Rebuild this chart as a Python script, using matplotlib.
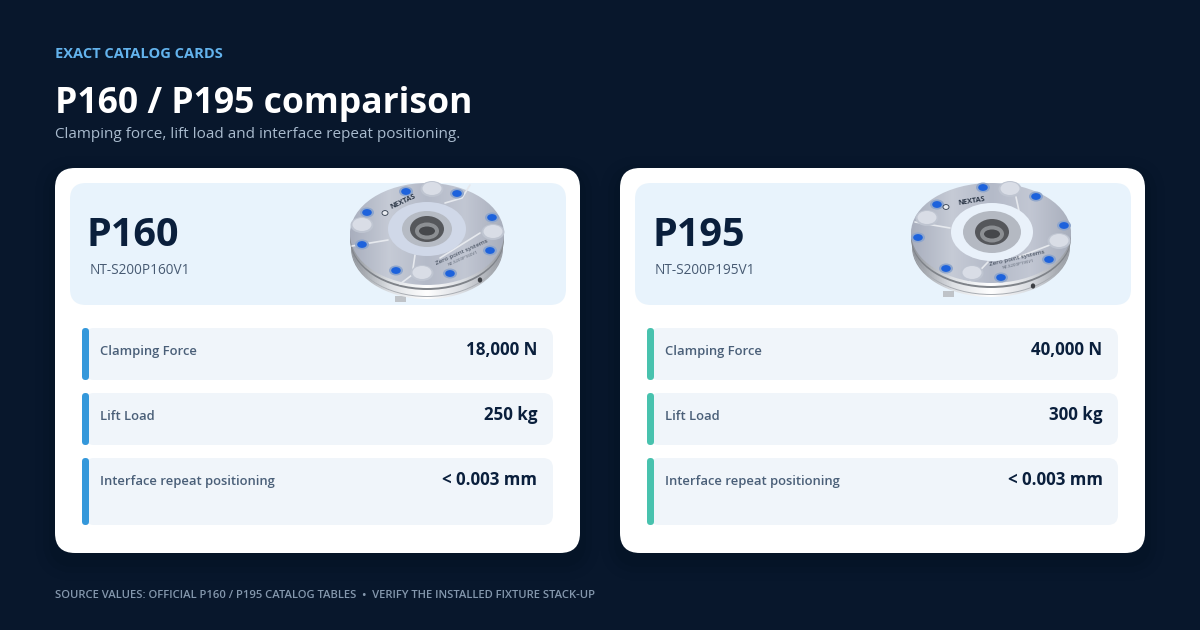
import numpy as np
import matplotlib
matplotlib.use("Agg")
import matplotlib.pyplot as plt
from matplotlib.colors import LinearSegmentedColormap
from matplotlib.patches import Ellipse, FancyBboxPatch, Rectangle

plt.rcParams['font.family'] = ['Open Sans', 'DejaVu Sans']

# values from the catalog cards
models = ["P160", "P195"]
part_numbers = ["NT-S200P160V1", "NT-S200P195V1"]
row_labels = ["Clamping Force", "Lift Load", "Interface repeat positioning"]
p160_values = ["18,000 N", "250 kg", "< 0.003 mm"]
p195_values = ["40,000 N", "300 kg", "< 0.003 mm"]
accents = ["#3498DB", "#48C2AE"]

BG = "#08172C"
NAVY = "#0A1F3C"

fig = plt.figure(figsize=(12, 6.3), dpi=100, facecolor=BG)
ax = fig.add_axes([0, 0, 1, 1])
ax.set_xlim(0, 1200)
ax.set_ylim(630, 0)
ax.axis('off')

top_cmap = LinearSegmentedColormap.from_list("top", ["#A9AFBE", "#C6CBD6", "#B4BAC8", "#C2C7D3", "#A9AFBD"])
side_cmap = LinearSegmentedColormap.from_list("side", ["#8E9299", "#DDE0E4", "#FFFFFF", "#D8DBE0", "#969AA1"])
ramp = np.linspace(0, 1, 64).reshape(1, -1)


def round_box(x0, y0, x1, y1, r, color, z=1, alpha=1.0):
    box = FancyBboxPatch((x0 + r, y0 + r), x1 - x0 - 2 * r, y1 - y0 - 2 * r,
                         boxstyle="round,pad=%f,rounding_size=%f" % (r, r),
                         fc=color, ec='none', zorder=z, alpha=alpha)
    ax.add_patch(box)
    return box


def disc(cx, cy, rx, ry, color, z, ec='none', lw=0):
    e = Ellipse((cx, cy), 2 * rx, 2 * ry, fc=color, ec=ec, lw=lw, zorder=z)
    ax.add_patch(e)
    return e


def shaded_disc(cx, cy, rx, ry, cmap, z):
    # metal look: gradient clipped to the ellipse
    e = disc(cx, cy, rx, ry, 'none', z)
    im = ax.imshow(ramp, cmap=cmap, extent=(cx - rx, cx + rx, cy + ry, cy - ry), aspect='auto', zorder=z)
    im.set_clip_path(e)


def draw_fixture(cx, cy, rx, ry, hx, hy, ring, dots, buttons, seams, logo, note, lines, port, foot):
    ax.add_patch(Rectangle((foot[0], foot[1]), 11, 6, fc="#BFC3C8", ec='none', zorder=3))
    shaded_disc(cx, cy + 14, rx - 1, ry, side_cmap, 3)
    disc(cx, cy + 12, rx - 1, ry, "#A9ADB3", 3)
    shaded_disc(cx, cy + 11, rx - 1, ry, side_cmap, 3)
    disc(cx, cy + 5, rx, ry, "#7F8389", 3)
    shaded_disc(cx, cy + 3, rx, ry, side_cmap, 3)
    shaded_disc(cx, cy, rx, ry, top_cmap, 4)
    for s in seams:
        ax.plot(s[0], s[1], color="#E6E9EE", lw=1.2, zorder=5, solid_capstyle='round')
    # centre ring and bore
    disc(hx, hy, ring[0], ring[1], ring[4], 5)
    disc(hx, hy, ring[2], ring[3], ring[5], 5)
    disc(hx, hy, 17, 13, "#55575B", 6)
    disc(hx, hy + 2, 12, 8.5, "#8C8F93", 6)
    disc(hx, hy + 2, 8, 4.5, "#45474B", 6)
    for bx, by in buttons:
        disc(bx, by, 11.5, 8, "#BFC5D1", 6)
        disc(bx, by - 0.5, 9.5, 6.5, "#D9DDE6", 6)
    for dx, dy in dots:
        disc(dx, dy + 0.5, 7, 5, "#8FA6CC", 6)
        disc(dx, dy + 0.5, 4.8, 3.4, "#1D62DC", 7)
    ax.text(logo[0], logo[1], "NEXTAS", fontsize=5.2, fontweight='bold', color="#2F3A4A",
            rotation=logo[2], ha='center', va='center', zorder=8)
    disc(logo[3], logo[4], 3, 2.4, "#E9ECF1", 8, ec="#2F3A4A", lw=0.6)
    ax.text(note[0], note[1], "Zero point systems", fontsize=4.6, color="#2F3A4A",
            rotation=note[2], ha='center', va='center', zorder=8)
    ax.text(note[0] + 1, note[1] + 6, lines, fontsize=3.2, color="#5B6472",
            rotation=note[2], ha='center', va='center', zorder=8)
    disc(port[0], port[1], 2.2, 2.6, "#3C3F44", 8)


ax.text(55, 53.5, "EXACT CATALOG CARDS", fontsize=10.5, fontweight='bold', color="#63B3ED",
        ha='left', va='center')
ax.text(55, 103.5, "P160 / P195 comparison", fontsize=25.6, fontweight='bold', color="white",
        ha='left', va='center')
ax.text(55, 135, "Clamping force, lift load and interface repeat positioning.", fontsize=10.97,
        color="#A9BBCE", ha='left', va='center')
ax.text(55, 595, "SOURCE VALUES: OFFICIAL P160 / P195 CATALOG TABLES  \u2022  VERIFY THE INSTALLED FIXTURE STACK-UP",
        fontsize=8.15, fontweight='semibold', color="#8497AD", ha='left', va='center')

row_tops = [328, 393, 458]
row_bottoms = [380, 445, 525]
row_values = [p160_values, p195_values]

for i, model in enumerate(models):
    off = 565 * i
    # soft shadow under the card
    for grow, a in [(20, 0.02), (12, 0.03), (6, 0.03)]:
        round_box(55 + off - grow, 168 + 8 - grow, 580 + off + grow, 553 + 8 + grow, 20 + grow, "#000000", z=1, alpha=a)
    round_box(55 + off, 168, 580 + off, 553, 20, "white", z=2)
    round_box(70 + off, 183, 566 + off, 305, 16, "#E8F3FC", z=2)

    ax.text(87 + off, 236, model, fontsize=28.5, fontweight='bold', color=NAVY,
            ha='left', va='center', zorder=3)
    ax.text(90 + off, 270, part_numbers[i], fontsize=9.8, color="#475A72",
            ha='left', va='center', zorder=3)

    for j, label in enumerate(row_labels):
        round_box(84 + off, row_tops[j], 553 + off, row_bottoms[j], 10, "#F0F5FA", z=3)
        round_box(82 + off, row_tops[j], 89 + off, row_bottoms[j], 3.5, accents[i], z=4)
        ax.text(100 + off, row_tops[j] + 23, label, fontsize=9.4, fontweight='semibold', color="#4A5F78",
                ha='left', va='center', zorder=5)
        ax.text(537.5 + off, row_tops[j] + 22, row_values[i][j], fontsize=12.2, fontweight='bold', color=NAVY,
                ha='right', va='center', zorder=5)

# product pictures
draw_fixture(427, 234, 77, 51, 427, 229,
             (39, 27, 25, 18, "#D0D8E8", "#B6BBC4"),
             [(406, 191), (457, 193), (492, 217), (490, 250), (450, 273), (396, 270), (362, 244), (367, 212)],
             [(432, 189), (362, 225), (493, 232), (422, 273)],
             [([388, 352], [240, 246]), ([415, 412, 400], [255, 275, 284]), ([440, 480], [258, 233]), ([445, 462, 470], [203, 198, 185])],
             (403, 202, 25, 385, 213), (462, 252, 24), "NT-S200P160V1", (480, 280), (395, 296))
draw_fixture(991, 233, 80, 50, 992, 232,
             (41, 29, 29, 21, "#E9F1FA", "#B4B9C2"),
             [(983, 187), (1036, 196), (1064, 225), (1049, 259), (1001, 277), (946, 268), (918, 237), (937, 204)],
             [(1010, 189), (927, 218), (1059, 241), (972, 273)],
             [([950, 915], [228, 222]), ([988, 968], [262, 283]), ([1016, 1068], [258, 238]), ([1016, 1022], [197, 225])],
             (972, 201, 9, 946, 207), (1017, 258, 13), "NT-S200P195V1", (1033, 286), (943, 291))

ax.set_xlim(0, 1200)
ax.set_ylim(630, 0)
fig.savefig("out.png", dpi=100, facecolor=BG)
